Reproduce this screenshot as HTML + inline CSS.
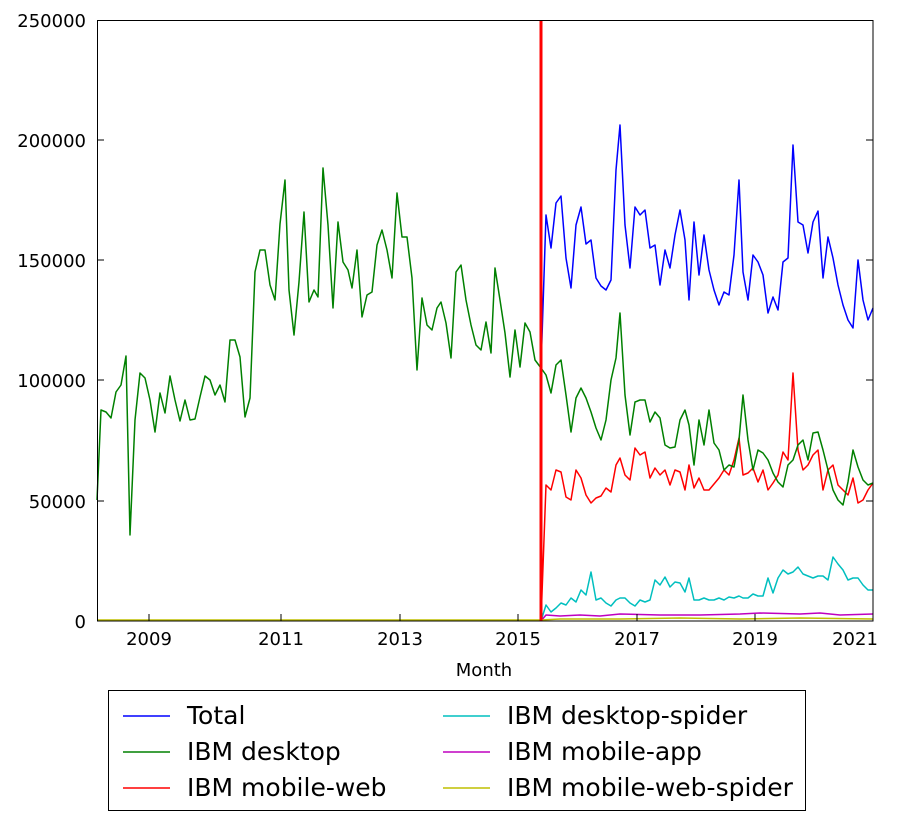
<!DOCTYPE html>
<html><head><meta charset="utf-8"><style>
body{margin:0;background:#fff;}
svg text{font-family:"DejaVu Sans","Liberation Sans",sans-serif;fill:#000;}
</style></head><body>
<svg width="916" height="821" viewBox="0 0 916 821" xmlns="http://www.w3.org/2000/svg">
<rect width="916" height="821" fill="#fff"/>
<g fill="none" stroke-width="1.5" stroke-linejoin="round">
<polyline stroke="#00bfbf" points="541,621 546,605 551,612 556,608 561,603 566,605 571,598 576,602 581,590 586,595 591,572 596,600 601,598 606,603 611,606 616,600 620,598 625,598 630,603 635,606 640,600 645,602 650,600 655,580 660,585 665,577 670,587 675,582 680,583 685,592 689,578 694,600 699,600 704,598 709,600 714,600 719,598 724,600 729,597 734,598 739,596 743,598 748,598 753,594 758,596 763,596 768,578 773,593 778,578 783,570 788,574 793,572 798,567 803,574 808,576 813,578 818,576 823,576 828,580 833,557 838,564 843,570 848,580 853,578 858,578 863,585 868,590 873,590"/>
<polyline stroke="#bf00bf" points="541,621 546,615 560,616 580,615 600,616 620,614 660,615 700,615 740,614 760,613 800,614 820,613 840,615 873,614"/>
<polyline stroke="#ff0000" points="541,621 546,485 551,490 556,470 561,472 566,497 571,500 576,470 581,478 586,495 591,503 596,498 601,496 606,488 611,492 616,465 620,458 625,475 630,480 635,448 640,455 645,452 650,478 655,468 660,475 665,470 670,485 675,470 680,472 685,490 689,465 694,488 699,478 704,490 709,490 714,484 719,478 724,470 729,475 734,460 739,438 743,475 748,473 753,468 758,482 763,470 768,490 773,483 778,475 783,452 788,460 793,373 798,450 803,470 808,465 813,455 818,450 823,490 828,470 833,465 838,485 843,490 848,495 853,478 858,503 863,500 868,490 873,483"/>
<polyline stroke="#0000ff" points="541,368 546,215 551,248 556,203 561,196 566,258 571,288 576,225 581,207 586,244 591,240 596,278 601,286 606,290 611,280 616,170 620,125 625,225 630,268 635,207 640,215 645,210 650,248 655,245 660,285 665,250 670,268 675,235 680,210 685,240 689,300 694,222 699,275 704,235 709,270 714,290 719,305 724,292 729,295 734,255 739,180 743,272 748,300 753,255 758,262 763,275 768,313 773,297 778,310 783,262 788,258 793,145 798,222 803,225 808,253 813,222 818,211 823,278 828,237 833,258 838,285 843,305 848,320 853,328 858,260 863,300 868,320 873,308"/>
<polyline stroke="#008000" points="97,500 101,410 106,412 111,418 116,392 121,385 126,356 130,535 135,420 140,373 145,378 150,400 155,432 160,393 165,413 170,376 175,400 180,421 185,400 190,420 195,419 200,397 205,376 210,380 215,395 220,385 225,402 230,340 235,340 240,357 245,417 250,398 255,272 260,250 265,250 270,285 275,300 280,224 285,180 289,290 294,335 299,282 304,212 309,302 314,290 318,297 323,168 328,225 333,308 338,222 343,262 348,270 352,288 357,250 362,317 367,295 372,292 377,245 382,230 387,250 392,278 397,193 402,237 407,237 412,278 417,370 422,298 427,325 432,330 437,308 441,302 446,323 451,358 456,272 461,265 466,300 471,325 476,345 481,350 486,322 491,353 495,268 500,300 505,333 510,377 515,330 520,367 525,323 530,332 535,360 541,368 546,375 551,393 556,365 561,360 566,395 571,432 576,398 581,388 586,398 591,412 596,428 601,440 606,420 611,380 616,358 620,313 625,395 630,435 635,402 640,400 645,400 650,422 655,412 660,418 665,445 670,448 675,447 680,420 685,410 689,425 694,465 699,420 704,445 709,410 714,443 719,450 724,470 729,465 734,467 739,440 743,395 748,440 753,470 758,450 763,453 768,460 773,473 778,482 783,487 788,465 793,460 798,445 803,440 808,460 813,433 818,432 823,450 828,470 833,490 838,500 843,505 848,482 853,450 858,467 863,480 868,485 873,483"/>
<polyline stroke="#bfbf00" points="97,620 541,620 560,619 620,619 680,618 740,619 800,618 873,619"/>
</g>
<line x1="541" y1="20" x2="541" y2="621" stroke="#ff0000" stroke-width="3"/>
<rect x="97.5" y="20.5" width="775.5" height="600.5" fill="none" stroke="#000" stroke-width="1"/>
<g stroke="#000" stroke-width="1">
<line x1="97" y1="140" x2="104" y2="140"/><line x1="97" y1="260" x2="104" y2="260"/><line x1="97" y1="380" x2="104" y2="380"/><line x1="97" y1="501" x2="104" y2="501"/>
<line x1="866" y1="140" x2="873" y2="140"/><line x1="866" y1="260" x2="873" y2="260"/><line x1="866" y1="380" x2="873" y2="380"/><line x1="866" y1="501" x2="873" y2="501"/>
<line x1="149" y1="621" x2="149" y2="614"/><line x1="281" y1="621" x2="281" y2="614"/><line x1="400" y1="621" x2="400" y2="614"/><line x1="518" y1="621" x2="518" y2="614"/><line x1="637" y1="621" x2="637" y2="614"/><line x1="755" y1="621" x2="755" y2="614"/>
</g>
<g font-size="18" text-anchor="end">
<text x="86" y="27">250000</text><text x="86" y="147">200000</text><text x="86" y="267">150000</text><text x="86" y="387">100000</text><text x="86" y="508">50000</text><text x="86" y="628">0</text>
</g>
<g font-size="18" text-anchor="middle">
<text x="149" y="645">2009</text><text x="281" y="645">2011</text><text x="400" y="645">2013</text><text x="518" y="645">2015</text><text x="637" y="645">2017</text><text x="755" y="645">2019</text><text x="855" y="645">2021</text>
<text x="484" y="676">Month</text>
</g>
<rect x="108.5" y="690.5" width="697" height="120" fill="#fff" stroke="#000" stroke-width="1"/>
<g stroke-width="1.5">
<line x1="123" y1="716" x2="170" y2="716" stroke="#0000ff"/>
<line x1="123" y1="752" x2="170" y2="752" stroke="#008000"/>
<line x1="123" y1="788" x2="170" y2="788" stroke="#ff0000"/>
<line x1="443" y1="716" x2="490" y2="716" stroke="#00bfbf"/>
<line x1="443" y1="752" x2="490" y2="752" stroke="#bf00bf"/>
<line x1="443" y1="788" x2="490" y2="788" stroke="#bfbf00"/>
</g>
<g font-size="25">
<text x="187" y="724">Total</text>
<text x="187" y="760">IBM desktop</text>
<text x="187" y="796">IBM mobile-web</text>
<text x="507" y="724">IBM desktop-spider</text>
<text x="507" y="760">IBM mobile-app</text>
<text x="507" y="796">IBM mobile-web-spider</text>
</g>
</svg>
</body></html>
